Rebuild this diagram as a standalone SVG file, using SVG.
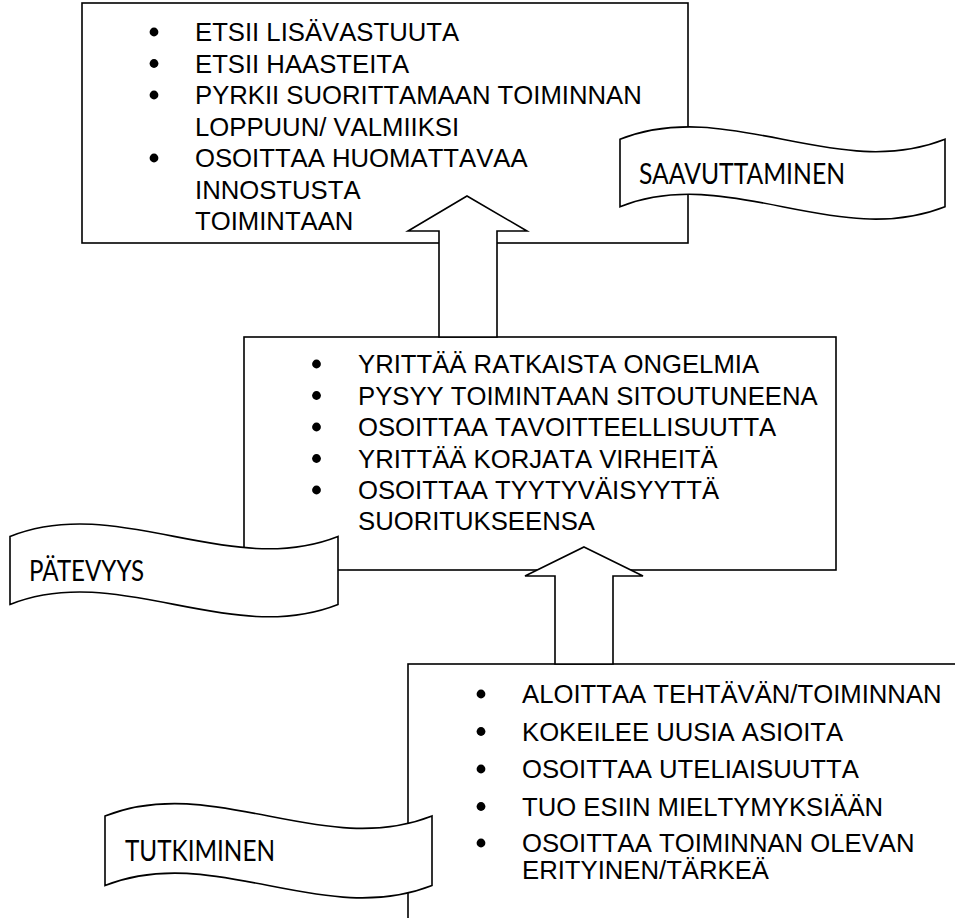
<svg xmlns="http://www.w3.org/2000/svg" width="955" height="918" viewBox="0 0 955 918">
<style>
.box{fill:#fff;stroke:#000;stroke-width:1.6}
.t{font-family:"Liberation Sans",Arial,sans-serif;font-size:25.7px;font-kerning:none;fill:#000}
.b{fill:#000}
.lbl{font-family:Lato,"Open Sans",sans-serif;font-size:28px;fill:#000}
.arrow{fill:#fff;stroke:#000;stroke-width:1.6;stroke-linejoin:miter}
.banner{fill:#fff;stroke:#000;stroke-width:1.6}
</style>
<rect width="955" height="918" fill="#fff"/>
<g id="box-saavuttaminen">
<rect class="box" x="82" y="3" width="606" height="240"/>
<circle class="b" cx="154" cy="32" r="4.4"/><text class="t" x="195" y="41">ETSII LISÄVASTUUTA</text>
<circle class="b" cx="154" cy="63.5" r="4.4"/><text class="t" x="195" y="72.5">ETSII HAASTEITA</text>
<circle class="b" cx="154" cy="95" r="4.4"/><text class="t" x="195" y="104">PYRKII SUORITTAMAAN TOIMINNAN</text>
<text class="t" x="195" y="135.5">LOPPUUN/ VALMIIKSI</text>
<circle class="b" cx="154" cy="158" r="4.4"/><text class="t" x="195" y="167">OSOITTAA HUOMATTAVAA</text>
<text class="t" x="195" y="198.5">INNOSTUSTA</text>
<text class="t" x="195" y="230">TOIMINTAAN</text>
</g>
<g id="box-patevyys">
<rect class="box" x="244" y="337" width="592" height="233"/>
<circle class="b" cx="316.5" cy="364" r="4.4"/><text class="t" x="358" y="373">YRITTÄÄ RATKAISTA ONGELMIA</text>
<circle class="b" cx="316.5" cy="395.5" r="4.4"/><text class="t" x="358" y="404.5">PYSYY TOIMINTAAN SITOUTUNEENA</text>
<circle class="b" cx="316.5" cy="427" r="4.4"/><text class="t" x="358" y="436">OSOITTAA TAVOITTEELLISUUTTA</text>
<circle class="b" cx="316.5" cy="458.5" r="4.4"/><text class="t" x="358" y="467.5">YRITTÄÄ KORJATA VIRHEITÄ</text>
<circle class="b" cx="316.5" cy="490" r="4.4"/><text class="t" x="358" y="499">OSOITTAA TYYTYVÄISYYTTÄ</text>
<text class="t" x="358" y="529.5">SUORITUKSEENSA</text>
</g>
<g id="box-tutkiminen">
<rect class="box" x="408" y="664" width="600" height="300"/>
<circle class="b" cx="481" cy="694" r="4.4"/><text class="t" x="522" y="703">ALOITTAA TEHTÄVÄN/TOIMINNAN</text>
<circle class="b" cx="481" cy="731.5" r="4.4"/><text class="t" x="522" y="740.5">KOKEILEE UUSIA ASIOITA</text>
<circle class="b" cx="481" cy="769" r="4.4"/><text class="t" x="522" y="778">OSOITTAA UTELIAISUUTTA</text>
<circle class="b" cx="481" cy="806.5" r="4.4"/><text class="t" x="522" y="815.5">TUO ESIIN MIELTYMYKSIÄÄN</text>
<circle class="b" cx="481" cy="843" r="4.4"/><text class="t" x="522" y="852">OSOITTAA TOIMINNAN OLEVAN</text>
<text class="t" x="522" y="879">ERITYINEN/TÄRKEÄ</text>
</g>
<g id="connectors">
<path class="arrow" d="M467,196 L527,231 L497,231 L497,337 L439,337 L439,231 L408,231 Z"/>
<path class="arrow" d="M584,547 L643,576 L613,576 L613,664 L555,664 L555,576 L525,576 Z"/>
</g>
<g id="label-saavuttaminen">
<path class="banner" d="M620,139.3 C728.3,96.3 836.7,182.3 945,139.3 L945,206.7 C836.7,249.7 728.3,163.7 620,206.7 Z"/>
<text class="lbl" x="639" y="183.5" textLength="206" lengthAdjust="spacingAndGlyphs">SAAVUTTAMINEN</text>
</g>
<g id="label-patevyys">
<path class="banner" d="M10,536.4 C119.3,493.4 228.7,579.4 338,536.4 L338,604.4 C228.7,647.4 119.3,561.4 10,604.4 Z"/>
<text class="lbl" x="29" y="581" textLength="115" lengthAdjust="spacingAndGlyphs">PÄTEVYYS</text>
</g>
<g id="label-tutkiminen">
<path class="banner" d="M105,816 C214,773 323,859 432,816 L432,885.5 C323,928.5 214,842.5 105,885.5 Z"/>
<text class="lbl" x="125" y="860.5" textLength="150" lengthAdjust="spacingAndGlyphs">TUTKIMINEN</text>
</g>
</svg>
